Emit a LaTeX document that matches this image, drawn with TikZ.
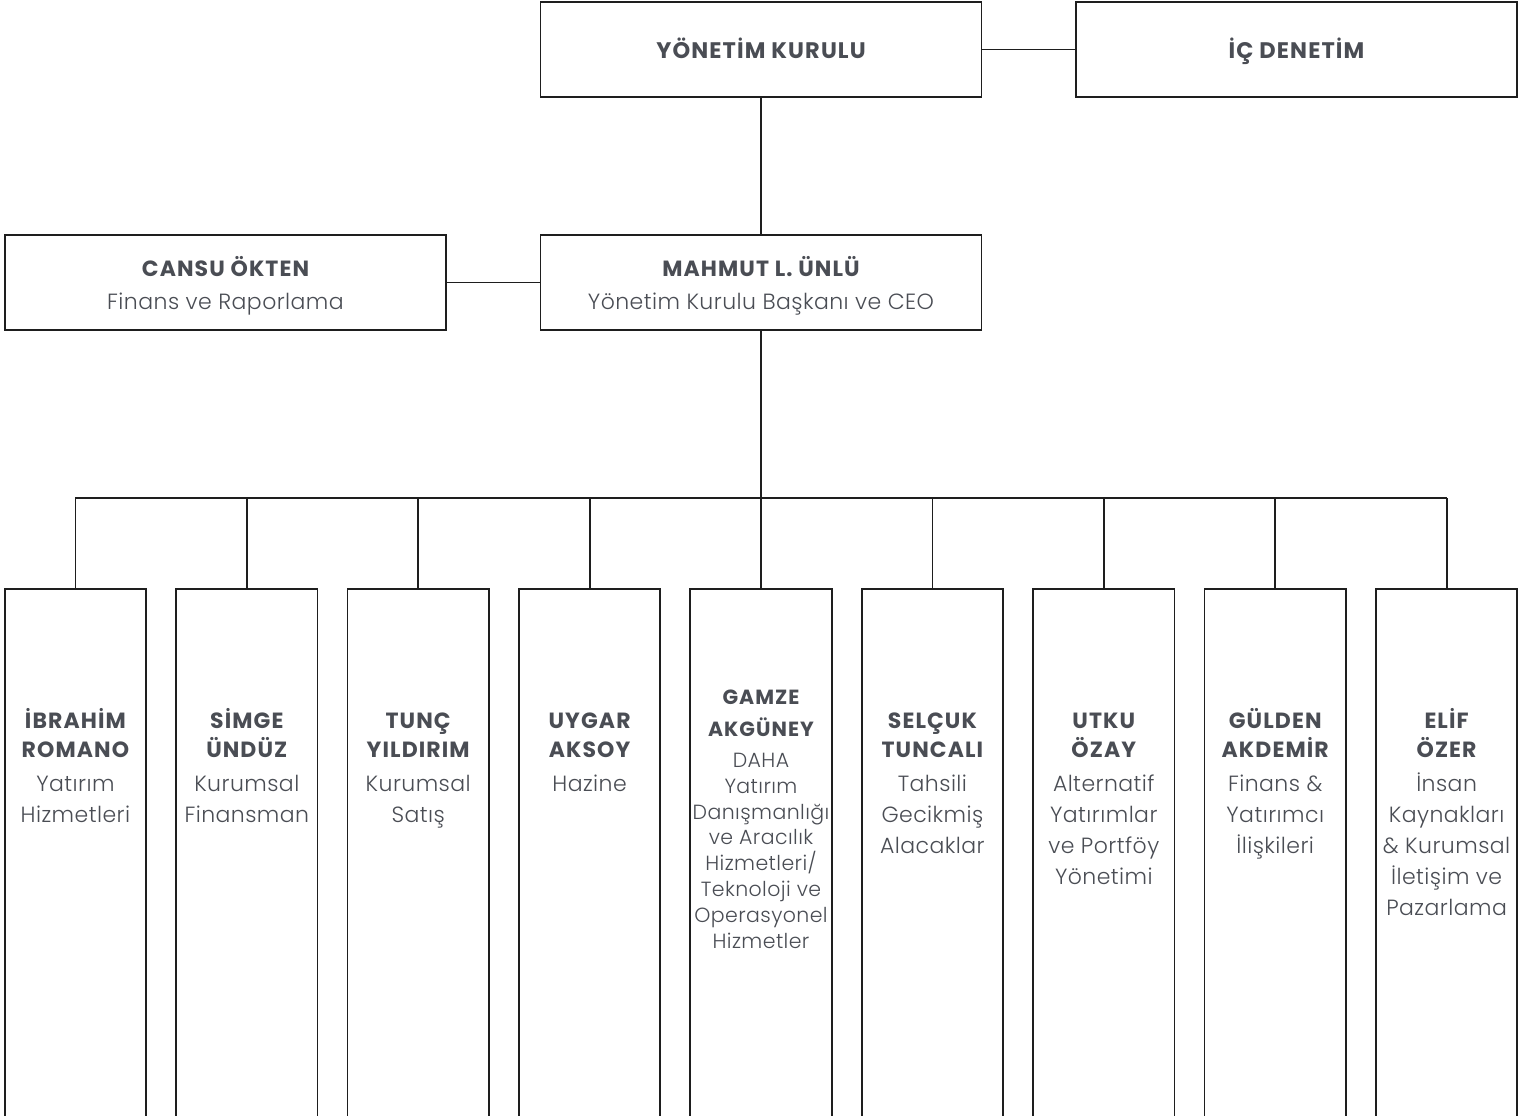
\documentclass[tikz,border=0pt]{standalone}
\usepackage{fontspec}
\IfFontExistsTF{Poppins Light}{\newfontfamily\orgsubfont{Poppins Light}[LetterSpace=2]}{\newfontfamily\orgsubfont{Poppins}[LetterSpace=2]}
\newfontfamily\orgnamefont{Poppins}[LetterSpace=5]
\newcommand\orgname[1]{{\orgnamefont\bfseries #1}}
\newcommand\orgsub[1]{{\orgsubfont #1}}
\newcommand\orgfirst[1]{{\orgnamefont\bfseries\vphantom{İ}#1}}
\definecolor{txtc}{HTML}{4A4D54}
\definecolor{linec}{HTML}{1E1E1E}
\tikzset{
  topbox/.style={draw=linec, line width=1.8pt, minimum width=441pt, minimum height=95pt,
    inner sep=0pt},
  toplabel/.style={inner sep=0pt, align=center, text=txtc},
  colbox/.style={draw=linec, line width=1.8pt, minimum width=141.5pt, minimum height=560pt,
    inner sep=0pt, anchor=north},
  collabel/.style={anchor=north, inner sep=0pt, align=center, text=txtc,
    font=\fontsize{22}{31}\selectfont},
  wire/.style={draw=linec, line width=1.8pt}
}
\begin{document}
\begin{tikzpicture}[x=1pt,y=-1pt]
\useasboundingbox (0,0) rectangle (1540,1116);
\clip (0,0) rectangle (1540,1116);
\fill[white] (0,0) rectangle (1540,1116);
% top level
\node[topbox] (yk) at (761,49.5) {};
\node[topbox] (ic) at (1296.5,49.5) {};
\node[topbox] (ceo) at (761,282.5) {};
\node[topbox] (cfo) at (225.5,282.5) {};
\node[toplabel, font=\fontsize{22.5}{33}\selectfont, yshift=-2pt] (tyk) at (yk) {\orgname{\vphantom{İÇ}YÖNETİM KURULU}};
\node[toplabel, font=\fontsize{22.5}{33}\selectfont, yshift=-2pt] (tic) at (ic) {\orgname{\vphantom{İÇ}İÇ DENETİM}};
\node[toplabel, font=\fontsize{22}{33}\selectfont, yshift=-3.5pt] (tceo) at (ceo) {\orgname{MAHMUT L. ÜNLÜ}\\\orgsub{Yönetim Kurulu Başkanı ve CEO}};
\node[toplabel, font=\fontsize{22}{33}\selectfont, yshift=-3.5pt] (tcfo) at (cfo) {\orgname{CANSU ÖKTEN}\\\orgsub{Finans ve Raporlama}};
\draw[wire] (yk) -- (ic);
\draw[wire] (yk) -- (ceo);
\draw[wire] (cfo) -- (ceo);
% columns
\foreach \i in {1,...,9}{
  \node[colbox] (c\i) at ({761+171.4*(\i-5)},588) {};
}
\coordinate (bus) at (761,498);
\draw[wire] (ceo.south) -- (bus);
\draw[wire] (c1.north |- bus) -- (c9.north |- bus);
\foreach \i in {1,...,9}{
  \draw[wire] (c\i.north |- bus) -- (c\i.north);
}
% labels
\node[collabel] (l1) at ([yshift=-120pt]c1.north) {\orgfirst{İBRAHİM}\\[-1.5pt]\orgname{ROMANO}\\[3pt]\orgsub{Yatırım}\\\orgsub{Hizmetleri}};
\node[collabel] (l2) at ([yshift=-120pt]c2.north) {\orgfirst{SİMGE}\\[-1.5pt]\orgname{ÜNDÜZ}\\[3pt]\orgsub{Kurumsal}\\\orgsub{Finansman}};
\node[collabel] (l3) at ([yshift=-120pt]c3.north) {\orgfirst{TUNÇ}\\[-1.5pt]\orgname{YILDIRIM}\\[3pt]\orgsub{Kurumsal}\\\orgsub{Satış}};
\node[collabel] (l4) at ([yshift=-120pt]c4.north) {\orgfirst{UYGAR}\\[-1.5pt]\orgname{AKSOY}\\[3pt]\orgsub{Hazine}};
\node[collabel, font=\fontsize{20.5}{25.8}\selectfont] (l5) at ([yshift=-98pt]c5.north) {\orgfirst{GAMZE}\\[6pt]\orgname{AKGÜNEY}\\[5pt]\orgsub{DAHA}\\\orgsub{Yatırım}\\\orgsub{Danışmanlığı}\\\orgsub{ve Aracılık}\\\orgsub{Hizmetleri/}\\\orgsub{Teknoloji ve}\\\orgsub{Operasyonel}\\\orgsub{Hizmetler}};
\node[collabel] (l6) at ([yshift=-120pt]c6.north) {\orgfirst{SELÇUK}\\[-1.5pt]\orgname{TUNCALI}\\[3pt]\orgsub{Tahsili}\\\orgsub{Gecikmiş}\\\orgsub{Alacaklar}};
\node[collabel] (l7) at ([yshift=-120pt]c7.north) {\orgfirst{UTKU}\\[-1.5pt]\orgname{ÖZAY}\\[3pt]\orgsub{Alternatif}\\\orgsub{Yatırımlar}\\\orgsub{ve Portföy}\\\orgsub{Yönetimi}};
\node[collabel] (l8) at ([yshift=-120pt]c8.north) {\orgfirst{GÜLDEN}\\[-1.5pt]\orgname{AKDEMİR}\\[3pt]\orgsub{Finans \&}\\\orgsub{Yatırımcı}\\\orgsub{İlişkileri}};
\node[collabel] (l9) at ([yshift=-120pt]c9.north) {\orgfirst{ELİF}\\[-1.5pt]\orgname{ÖZER}\\[3pt]\orgsub{İnsan}\\\orgsub{Kaynakları}\\\orgsub{\& Kurumsal}\\\orgsub{İletişim ve}\\\orgsub{Pazarlama}};
\end{tikzpicture}
\end{document}
